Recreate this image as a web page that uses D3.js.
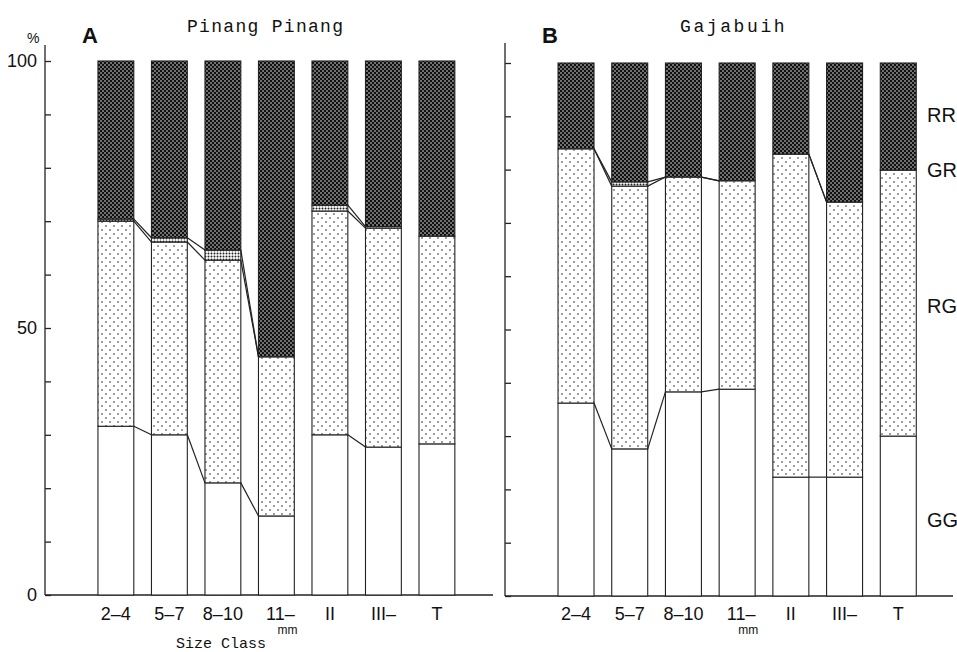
<!DOCTYPE html>
<html>
<head>
<meta charset="utf-8">
<script src="https://cdn.jsdelivr.net/npm/d3@7"></script>
<style>
  body { margin: 0; background: #fff; }
  svg text { fill: #111; }
</style>
</head>
<body>
<svg id="chart" width="957" height="652"></svg>
<script>
// size classes along the bottom
var categories = ["2-4", "5-7", "8-10", "11", "II", "III-", "T"];
var series = ["GG", "RG", "GR", "RR"];
var yTicks = [0, 10, 20, 30, 40, 50, 60, 70, 80, 90, 100];
var yLabels = [0, 50, 100];

// panel A, Pinang Pinang (% of each class)
var ppGG = [31.6, 30.0, 21.0, 14.8, 30.0, 27.7, 28.3];
var ppRG = [38.4, 36.1, 41.7, 29.8, 41.9, 41.0, 38.9];
var ppGR = [0.4, 0.8, 1.9, 0.0, 1.1, 0.3, 0.0];
var ppRR = [29.6, 33.1, 35.4, 55.4, 27.0, 31.0, 32.8];

// panel B, Gajabuih
var gjGG = [36.2, 27.6, 38.3, 38.8, 22.3, 22.3, 30.0];
var gjRG = [47.7, 49.3, 40.3, 39.1, 60.6, 51.6, 49.9];
var gjGR = [0.0, 0.8, 0.0, 0.0, 0.0, 0.0, 0.0];
var gjRR = [16.1, 22.3, 21.4, 22.1, 17.1, 26.1, 20.1];

// bars joined by lines
var linkGroups = [[0, 1, 2, 3], [4, 5]];

var svg = d3.select("#chart");
var defs = svg.append("defs");

// stipple patterns
var pRR = defs.append("pattern").attr("id", "pRR").attr("patternUnits", "userSpaceOnUse")
    .attr("width", 4).attr("height", 4);
pRR.append("rect").attr("width", 4).attr("height", 4).attr("fill", "#111");
pRR.append("circle").attr("cx", 1).attr("cy", 1).attr("r", 0.75).attr("fill", "#fff");
pRR.append("circle").attr("cx", 3).attr("cy", 3).attr("r", 0.75).attr("fill", "#fff");

var pGR = defs.append("pattern").attr("id", "pGR").attr("patternUnits", "userSpaceOnUse")
    .attr("width", 3).attr("height", 3);
pGR.append("rect").attr("width", 3).attr("height", 3).attr("fill", "#fff");
pGR.append("circle").attr("cx", 1.5).attr("cy", 1.5).attr("r", 1).attr("fill", "#222");

var pRG = defs.append("pattern").attr("id", "pRG").attr("patternUnits", "userSpaceOnUse")
    .attr("width", 8).attr("height", 8);
pRG.append("rect").attr("width", 8).attr("height", 8).attr("fill", "#fff");
pRG.append("circle").attr("cx", 2).attr("cy", 2).attr("r", 0.8).attr("fill", "#222");
pRG.append("circle").attr("cx", 6).attr("cy", 6).attr("r", 0.8).attr("fill", "#222");

var fills = { GG: "#fff", RG: "url(#pRG)", GR: "url(#pGR)", RR: "url(#pRR)" };

function drawPanel(opt) {
  var x = d3.scaleBand().domain(categories).range(opt.xRange)
      .paddingInner(0.33).paddingOuter(0.33);
  var y = d3.scaleLinear().domain([0, 100]).range(opt.yRange);

  var rows = categories.map(function(c, i) {
    return { cat: c, GG: opt.gg[i], RG: opt.rg[i], GR: opt.gr[i], RR: opt.rr[i] };
  });
  var stack = d3.stack().keys(series)(rows);

  var g = svg.append("g");

  // y axis, ticks pointing inward
  var yAxis = d3.axisLeft(y).tickValues(yTicks).tickSize(-6).tickPadding(8)
      .tickFormat(function(d) { return opt.labels && yLabels.indexOf(d) >= 0 ? d : ""; });
  var ax = g.append("g").attr("transform", "translate(" + opt.axisX + ",0)").call(yAxis);
  ax.select(".domain").remove();
  ax.selectAll(".tick line").attr("stroke", "#222").attr("stroke-width", 1.3);
  ax.selectAll(".tick text").style("font-family", "Liberation Sans, Arial, sans-serif")
      .style("font-size", "18px").attr("fill", "#111");
  g.append("line").attr("x1", opt.axisX).attr("x2", opt.axisX)
      .attr("y1", opt.axisTop).attr("y2", y(0))
      .attr("stroke", "#333").attr("stroke-width", 1.4);

  // baseline
  g.append("line").attr("x1", opt.axisX).attr("x2", opt.baseEnd)
      .attr("y1", y(0)).attr("y2", y(0)).attr("stroke", "#222").attr("stroke-width", 1.5);

  // stacked bars
  stack.forEach(function(layer) {
    g.append("g").selectAll("rect").data(layer.filter(function(d) { return d[1] - d[0] > 0; }))
      .enter().append("rect")
        .attr("x", function(d) { return x(d.data.cat); })
        .attr("width", x.bandwidth())
        .attr("y", function(d) { return y(d[1]); })
        .attr("height", function(d) { return y(d[0]) - y(d[1]); })
        .attr("fill", fills[layer.key])
        .attr("stroke", "#222").attr("stroke-width", 1.1);
  });

  // lines joining the class boundaries
  linkGroups.forEach(function(grp) {
    for (var k = 0; k < grp.length - 1; k++) {
      var a = grp[k], b = grp[k + 1];
      for (var s = 0; s < 3; s++) {
        g.append("line")
          .attr("x1", x(categories[a]) + x.bandwidth()).attr("y1", y(stack[s][a][1]))
          .attr("x2", x(categories[b])).attr("y2", y(stack[s][b][1]))
          .attr("stroke", "#222").attr("stroke-width", 1.2);
      }
    }
  });

  // category labels
  g.append("g").selectAll("text").data(categories).enter().append("text")
      .attr("x", function(d) { return x(d) + x.bandwidth() / 2 + (d === "11" ? 4 : 0); })
      .attr("y", 620)
      .attr("text-anchor", "middle")
      .style("font-family", "Liberation Sans, Arial, sans-serif")
      .style("font-size", "18px")
      .text(function(d) { return d === "11" ? "11\u2013" : d.replace("-", "\u2013"); });
  // subscript unit under the 11 class
  g.append("text")
      .attr("x", x("11") + x.bandwidth() / 2 + 11).attr("y", 634)
      .attr("text-anchor", "middle")
      .style("font-family", "Liberation Sans, Arial, sans-serif")
      .style("font-size", "12px").text("mm");

  // panel letter and title
  svg.append("text").attr("x", opt.letterX).attr("y", 43).text(opt.letter)
      .style("font-family", "Liberation Sans, Arial, sans-serif")
      .style("font-weight", "bold").style("font-size", "22px");
  svg.append("text").attr("x", opt.titleX).attr("y", 32).text(opt.title)
      .style("font-family", "Liberation Mono, Courier New, monospace")
      .style("font-size", "18px").style("letter-spacing", opt.titleSpacing + "px");
}

drawPanel({
  xRange: [80.3, 472.5], yRange: [595, 61], axisX: 45, axisTop: 45, baseEnd: 493,
  gg: ppGG, rg: ppRG, gr: ppGR, rr: ppRR, labels: true,
  letter: "A", letterX: 82, title: "Pinang Pinang", titleX: 187, titleSpacing: 1.3
});
drawPanel({
  xRange: [540.3, 934], yRange: [596, 63], axisX: 505, axisTop: 43, baseEnd: 953,
  gg: gjGG, rg: gjRG, gr: gjGR, rr: gjRR, labels: false,
  letter: "B", letterX: 542, title: "Gajabuih", titleX: 680, titleSpacing: 2.6
});

// percent sign
svg.append("text").attr("x", 27).attr("y", 43).text("%")
    .style("font-family", "Liberation Sans, Arial, sans-serif").style("font-size", "14px");

// axis title
svg.append("text").attr("x", 176).attr("y", 648).text("Size Class")
    .style("font-family", "Liberation Mono, Courier New, monospace").style("font-size", "15px");

// series labels on the right
var seriesLabelY = { RR: 122, GR: 177, RG: 313, GG: 527 };
svg.append("g").selectAll("text").data(["RR", "GR", "RG", "GG"]).enter().append("text")
    .attr("x", 927).attr("y", function(d) { return seriesLabelY[d]; })
    .text(function(d) { return d; })
    .style("font-family", "Liberation Sans, Arial, sans-serif").style("font-size", "20px");
</script>
</body>
</html>
